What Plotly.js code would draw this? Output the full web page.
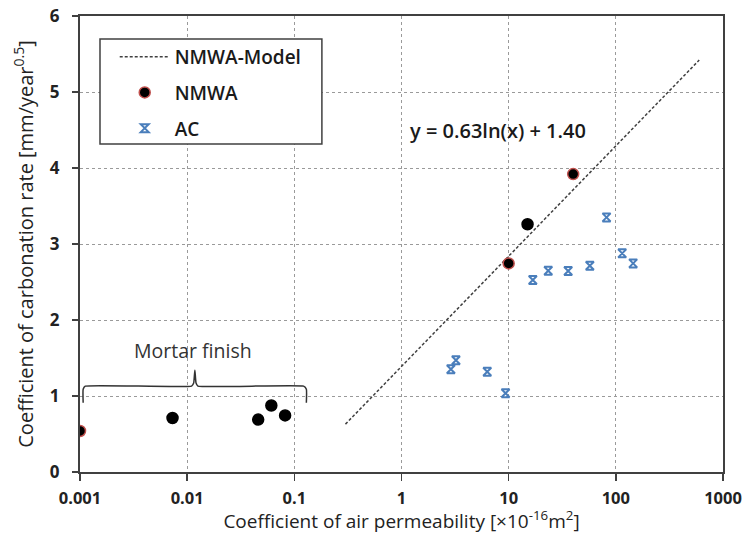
<!DOCTYPE html>
<html>
<head>
<meta charset="utf-8">
<script src="https://cdn.plot.ly/plotly-3.0.1.min.js"></script>
<style>html,body{margin:0;padding:0;background:#fff;}#chart{width:755px;height:534px;}</style>
</head>
<body>
<div id="chart"></div>
<script>
// ---- data ----
var modelX = [0.3, 600];
var modelY = [0.63, 5.42];

var nmwaX = [0.001, 0.0073, 0.046, 0.061, 0.082, 10.0, 15.0, 40.0];
var nmwaY = [0.54, 0.71, 0.69, 0.875, 0.745, 2.745, 3.26, 3.92];
var nmwaRedEdge = [true, false, false, false, false, true, false, true];

var acX = [2.89, 3.22, 6.31, 9.35, 16.8, 23.4, 35.9, 57.2, 81.9, 114.6, 145];
var acY = [1.353, 1.47, 1.318, 1.037, 2.526, 2.648, 2.644, 2.714, 3.35, 2.877, 2.745];

var braceX = [0.00107, 0.00107, 0.00112, 0.0110, 0.0115, 0.0118, 0.0121, 0.0126, 0.122, 0.1295, 0.1295];
var braceY = [0.91, 1.09, 1.13, 1.13, 1.17, 1.34, 1.17, 1.13, 1.13, 1.09, 0.91];

var xTickVals = [0.001, 0.01, 0.1, 1, 10, 100, 1000];
var xTickText = ['0.001', '0.01', '0.1', '1', '10', '100', '1000'];

var FONT = '"Open Sans", "Liberation Sans", Arial, sans-serif';

var traces = [
  {
    x: modelX, y: modelY, type: 'scatter', mode: 'lines', name: 'NMWA-Model',
    line: {color: '#404040', width: 1.5, dash: '3px,2px'},
    legendgroup: 'a', hoverinfo: 'skip'
  },
  {
    x: nmwaX, y: nmwaY, type: 'scatter', mode: 'markers', name: 'NMWA',
    marker: {symbol: 'circle', size: 11, color: '#000000',
      line: {width: 1.5, color: nmwaRedEdge.map(function(r){ return r ? '#c0504d' : '#000000'; })}},
    legendgroup: 'b'
  },
  {
    x: acX, y: acY, type: 'scatter', mode: 'markers', name: 'AC',
    marker: {symbol: 'hourglass-open', size: 8, color: '#4a7ebb', line: {width: 2, color: '#4a7ebb'}},
    legendgroup: 'c'
  },
  {
    x: braceX, y: braceY, type: 'scatter', mode: 'lines', showlegend: false,
    line: {color: '#333333', width: 1.5, shape: 'spline', smoothing: 0.4}, hoverinfo: 'skip'
  }
];

var layout = {
  width: 755, height: 534,
  margin: {l: 80, r: 31.7, t: 16, b: 62.3},
  paper_bgcolor: '#ffffff', plot_bgcolor: '#ffffff',
  font: {family: FONT, color: '#222222'},
  showlegend: true,
  legend: {
    x: 0.054, y: 0.952, xanchor: 'left', yanchor: 'top',
    bgcolor: 'rgba(0,0,0,0)', borderwidth: 0,
    font: {family: FONT, size: 19, color: '#1a1a1a', weight: 600},
    itemwidth: 50, traceorder: 'grouped', tracegroupgap: 8
  },
  xaxis: {
    type: 'log', range: [-3, 3],
    tickvals: xTickVals, ticktext: xTickText,
    ticks: 'outside', ticklen: 7, tickwidth: 1.5, tickcolor: '#404040',
    ticklabelstandoff: 3,
    showline: true, linecolor: '#404040', linewidth: 2, mirror: true,
    showgrid: true, gridcolor: '#9a9a9a', gridwidth: 1, griddash: 'dot',
    zeroline: false,
    tickfont: {family: FONT, size: 16.5, color: '#222222', weight: 700},
    title: {text: 'Coefficient of air permeability [×10<sup>-16</sup>m<sup>2</sup>]',
      font: {family: FONT, size: 19, color: '#222222'}, standoff: 5}
  },
  yaxis: {
    range: [0, 6], dtick: 1,
    ticks: 'outside', ticklen: 6, tickwidth: 1.5, tickcolor: '#404040',
    ticklabelstandoff: 9,
    showline: true, linecolor: '#404040', linewidth: 2, mirror: true,
    showgrid: true, gridcolor: '#9a9a9a', gridwidth: 1, griddash: 'dot',
    zeroline: false,
    tickfont: {family: FONT, size: 17, color: '#222222', weight: 700},
    title: {text: 'Coefficient of carbonation rate [mm/year<sup>0.5</sup>]',
      font: {family: FONT, size: 20, color: '#222222'}, standoff: 11}
  },
  shapes: [
    {type: 'rect', xref: 'paper', yref: 'paper', x0: 0.0311, x1: 0.3762, y0: 0.7191, y1: 0.9495,
      fillcolor: '#ffffff', line: {color: '#404040', width: 1.5}, layer: 'above'}
  ],
  annotations: [
    {x: 0.899, y: 4.50, xref: 'x', yref: 'y', text: 'y = 0.63ln(x) + 1.40', showarrow: false,
      font: {family: FONT, size: 20, color: '#1a1a1a', weight: 600}},
    {x: -1.949, y: 1.594, xref: 'x', yref: 'y', text: 'Mortar finish', showarrow: false,
      font: {family: FONT, size: 19.5, color: '#333333'}}
  ]
};

Plotly.newPlot('chart', traces, layout, {displayModeBar: false, staticPlot: true});
</script>
</body>
</html>
